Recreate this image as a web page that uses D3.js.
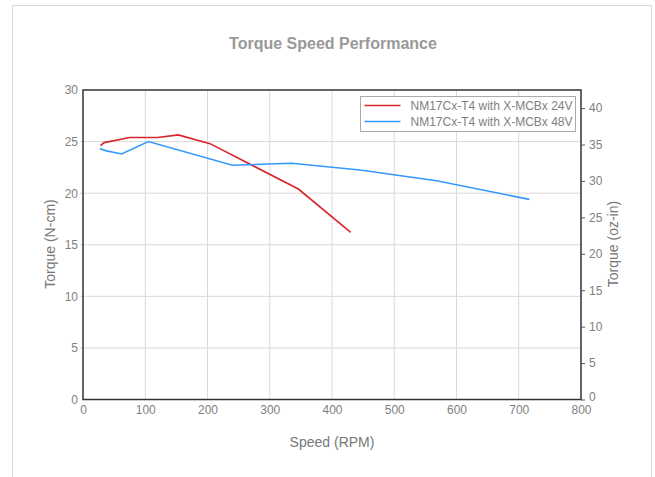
<!DOCTYPE html>
<html>
<head>
<meta charset="utf-8">
<script src="https://cdn.jsdelivr.net/npm/d3@7"></script>
<style>
  body { margin: 0; background: #fff; }
  text { font-family: "Liberation Sans", Arial, sans-serif; }
</style>
</head>
<body>
<div id="chart"></div>
<script>
// speed (RPM) / torque (N-cm)
var speed24 = [28, 34, 75, 120, 153, 204, 346, 430];
var torque24 = [24.6, 24.9, 25.4, 25.4, 25.65, 24.8, 20.4, 16.2];
var speed48 = [27, 38, 62, 105, 240, 335, 445, 568, 717];
var torque48 = [24.3, 24.1, 23.8, 25.0, 22.7, 22.9, 22.25, 21.2, 19.4];
var seriesNames = ["NM17Cx-T4 with X-MCBx 24V", "NM17Cx-T4 with X-MCBx 48V"];
var seriesColors = ["#d7262b", "#3399ff"];
var xTicks = [0, 100, 200, 300, 400, 500, 600, 700, 800];
var yTicks = [0, 5, 10, 15, 20, 25, 30];
var ozTicks = [0, 5, 10, 15, 20, 25, 30, 35, 40];

var W = 655, H = 477;
var m = {left: 83, right: 581, top: 90, bottom: 399.5};

var svg = d3.select("#chart").append("svg")
  .attr("width", W).attr("height", H);

// outer frame
svg.append("rect")
  .attr("x", 12.5).attr("y", 5.5)
  .attr("width", 639).attr("height", 500)
  .attr("fill", "none").attr("stroke", "#d6d6d6");

var x = d3.scaleLinear().domain([0, 800]).range([m.left, m.right]);
var y = d3.scaleLinear().domain([0, 30]).range([m.bottom, m.top]);
var y2 = d3.scaleLinear().domain([0, 30 / 0.7061552]).range([m.bottom, m.top]);

// grid
svg.append("g").selectAll("line").data(xTicks.slice(1, -1)).enter().append("line")
  .attr("x1", function(d){ return x(d); }).attr("x2", function(d){ return x(d); })
  .attr("y1", m.top).attr("y2", m.bottom)
  .attr("stroke", "#d9d9d9").attr("stroke-width", 1);
svg.append("g").selectAll("line").data(yTicks.slice(1, -1)).enter().append("line")
  .attr("x1", m.left - 3).attr("x2", m.right)
  .attr("y1", function(d){ return y(d); }).attr("y2", function(d){ return y(d); })
  .attr("stroke", "#d9d9d9").attr("stroke-width", 1);

// frame of plot
svg.append("rect")
  .attr("x", m.left).attr("y", m.top)
  .attr("width", m.right - m.left).attr("height", m.bottom - m.top)
  .attr("fill", "none").attr("stroke", "#333").attr("stroke-width", 1.5);

// axes
var gx = svg.append("g").attr("transform", "translate(0," + m.bottom + ")")
  .call(d3.axisBottom(x).tickValues(xTicks).tickSize(0).tickPadding(6));
var gy = svg.append("g").attr("transform", "translate(" + m.left + ",0)")
  .call(d3.axisLeft(y).tickValues(yTicks).tickSize(0).tickPadding(5));
var gy2 = svg.append("g").attr("transform", "translate(" + m.right + ",0)")
  .call(d3.axisRight(y2).tickValues(ozTicks).tickSize(4).tickPadding(4));

[gx, gy, gy2].forEach(function(g){
  g.select(".domain").remove();
  g.selectAll("text").attr("fill", "#808080").style("font-size", "12px")
    .style("font-family", "'Liberation Sans', Arial, sans-serif");
  g.selectAll("line").attr("stroke", "#555");
});
// lift the right "0" a little, as in the original
gy2.selectAll(".tick").filter(function(d){ return d === 0; })
  .select("text").attr("dy", "0.1em");

// titles
svg.append("text").attr("x", 333).attr("y", 49).attr("text-anchor", "middle")
  .attr("fill", "#999").style("font-size", "16px").style("font-weight", "bold")
  .text("Torque Speed Performance");
svg.append("text").attr("x", 332).attr("y", 447).attr("text-anchor", "middle")
  .attr("fill", "#777").style("font-size", "14px").text("Speed (RPM)");
svg.append("text").attr("transform", "translate(55,244) rotate(-90)")
  .attr("text-anchor", "middle").attr("fill", "#777").style("font-size", "14px")
  .text("Torque (N-cm)");
svg.append("text").attr("transform", "translate(618,244) rotate(-90)")
  .attr("text-anchor", "middle").attr("fill", "#777").style("font-size", "14px")
  .text("Torque (oz-in)");

// lines
var series = [
  d3.zip(speed24, torque24),
  d3.zip(speed48, torque48)
];
var line = d3.line().x(function(d){ return x(d[0]); }).y(function(d){ return y(d[1]); });
svg.selectAll("path.series").data(series).enter().append("path")
  .attr("class", "series")
  .attr("d", line)
  .attr("fill", "none")
  .attr("stroke", function(d, i){ return seriesColors[i]; })
  .attr("stroke-width", 1.6);

// legend
var lg = svg.append("g").attr("transform", "translate(360.5,96.5)");
lg.append("rect").attr("width", 215).attr("height", 35)
  .attr("fill", "#fff").attr("stroke", "#aaa");
var items = lg.selectAll("g").data(seriesNames).enter().append("g")
  .attr("transform", function(d, i){ return "translate(0," + (9 + i * 16) + ")"; });
items.append("line").attr("x1", 4).attr("x2", 40).attr("y1", 0).attr("y2", 0)
  .attr("stroke", function(d, i){ return seriesColors[i]; }).attr("stroke-width", 1.6);
items.append("text").attr("x", 50).attr("y", 4.5)
  .attr("fill", "#808080").style("font-size", "12px")
  .text(function(d){ return d; });
</script>
</body>
</html>
